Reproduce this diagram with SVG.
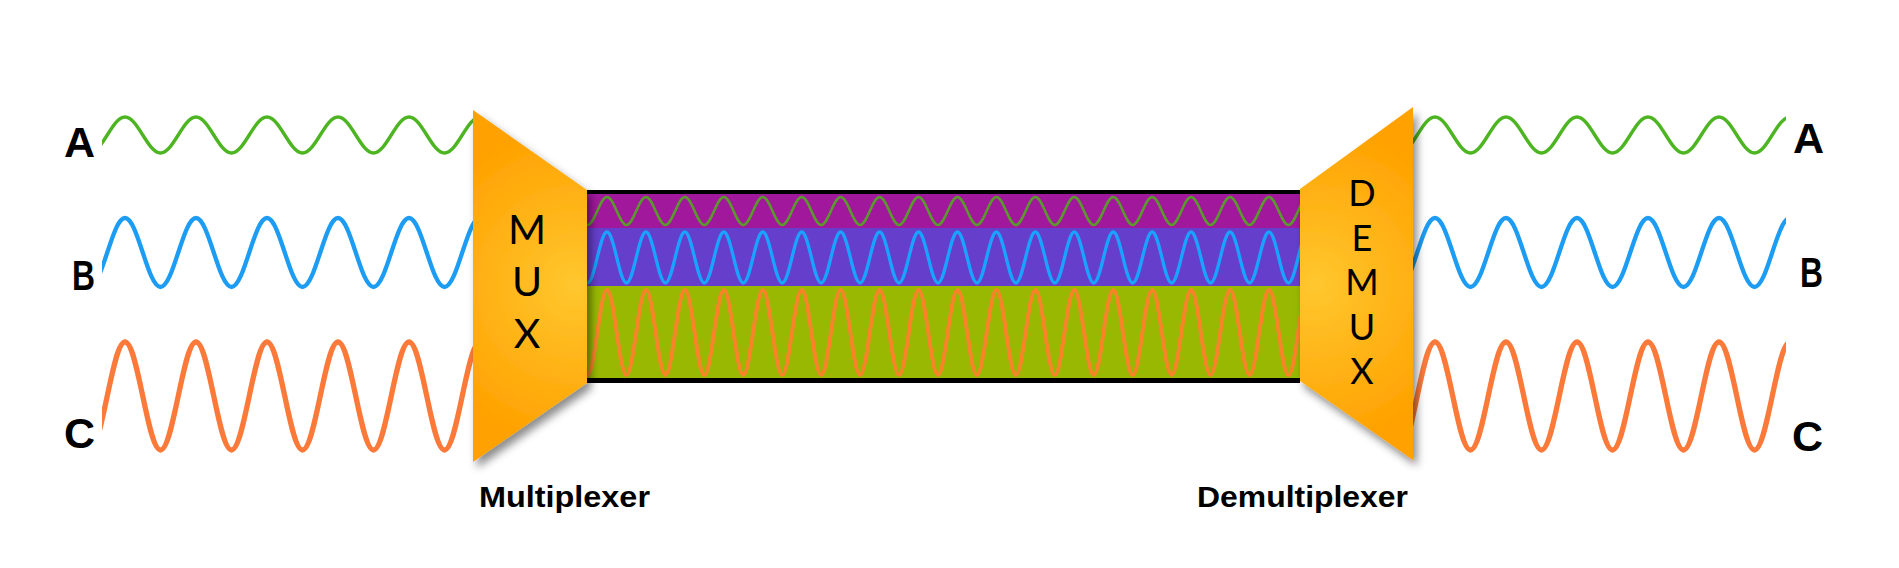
<svg xmlns="http://www.w3.org/2000/svg" xmlns:xlink="http://www.w3.org/1999/xlink" width="1899" height="568" viewBox="0 0 1899 568">
<style>
.lbl{font-family:"Liberation Sans",Arial,sans-serif;font-weight:bold;font-size:43px;fill:#000}
.cap{font-family:"Liberation Sans",Arial,sans-serif;font-weight:bold;font-size:30px;fill:#000}
.mux{font-family:Lato,"Liberation Sans",sans-serif;font-size:41px;fill:#000;text-anchor:middle}
.demux{font-family:Lato,"Liberation Sans",sans-serif;font-size:36px;fill:#000;text-anchor:middle}
.w{fill:none;stroke-linecap:butt}
.wa{stroke:#4cb521;stroke-width:3.4}
.wb{stroke:#1c9cf2;stroke-width:4.3}
.wc{stroke:#fb7a3a;stroke-width:5.3}
.ba{stroke:#5a9a2c;stroke-width:2.6}
.bb{stroke:#1aa2ff;stroke-width:3.3}
.bc{stroke:#f8842a;stroke-width:4}
</style>
<defs>
<clipPath id="sigclip"><rect x="102" y="0" width="374" height="568"/></clipPath>
<clipPath id="bandclip"><rect x="587" y="194" width="713" height="184"/></clipPath>
<radialGradient id="gMux" gradientUnits="userSpaceOnUse" cx="575" cy="285" r="160">
<stop offset="0" stop-color="#ffc72f"/><stop offset="1" stop-color="#ffa100"/>
</radialGradient>
<radialGradient id="gDemux" gradientUnits="userSpaceOnUse" cx="1315" cy="285" r="160">
<stop offset="0" stop-color="#ffc72f"/><stop offset="1" stop-color="#ffa100"/>
</radialGradient>
<filter id="shadow" x="-20%" y="-20%" width="150%" height="150%">
<feDropShadow dx="4" dy="6" stdDeviation="4" flood-color="#000" flood-opacity="0.45"/>
</filter>
<g id="signals" clip-path="url(#sigclip)">
<path class="w wa" d="M54,117 c12.9,0 22.6,36 35.5,36 s22.6,-36 35.5,-36 s22.6,36 35.5,36 s22.6,-36 35.5,-36 s22.6,36 35.5,36 s22.6,-36 35.5,-36 s22.6,36 35.5,36 s22.6,-36 35.5,-36 s22.6,36 35.5,36 s22.6,-36 35.5,-36 s22.6,36 35.5,36 s22.6,-36 35.5,-36 s22.6,36 35.5,36"/>
<path class="w wb" d="M54,218 c12.9,0 22.6,69 35.5,69 s22.6,-69 35.5,-69 s22.6,69 35.5,69 s22.6,-69 35.5,-69 s22.6,69 35.5,69 s22.6,-69 35.5,-69 s22.6,69 35.5,69 s22.6,-69 35.5,-69 s22.6,69 35.5,69 s22.6,-69 35.5,-69 s22.6,69 35.5,69 s22.6,-69 35.5,-69 s22.6,69 35.5,69"/>
<path class="w wc" d="M54,342 c12.9,0 22.6,108 35.5,108 s22.6,-108 35.5,-108 s22.6,108 35.5,108 s22.6,-108 35.5,-108 s22.6,108 35.5,108 s22.6,-108 35.5,-108 s22.6,108 35.5,108 s22.6,-108 35.5,-108 s22.6,108 35.5,108 s22.6,-108 35.5,-108 s22.6,108 35.5,108 s22.6,-108 35.5,-108 s22.6,108 35.5,108"/>
</g>
</defs>

<g id="band">
<rect x="587" y="190" width="713" height="193" fill="#000"/>
<rect x="587" y="194" width="713" height="34" fill="#a1189d"/>
<rect x="587" y="228" width="713" height="58" fill="#653fcb"/>
<rect x="587" y="286" width="713" height="92" fill="#98b802"/>
<g clip-path="url(#bandclip)">
<path class="w ba" d="M568.06,197 c7.08,0 12.39,28 19.47,28 s12.39,-28 19.47,-28 s12.39,28 19.47,28 s12.39,-28 19.47,-28 s12.39,28 19.47,28 s12.39,-28 19.47,-28 s12.39,28 19.47,28 s12.39,-28 19.47,-28 s12.39,28 19.47,28 s12.39,-28 19.47,-28 s12.39,28 19.47,28 s12.39,-28 19.47,-28 s12.39,28 19.47,28 s12.39,-28 19.47,-28 s12.39,28 19.47,28 s12.39,-28 19.47,-28 s12.39,28 19.47,28 s12.39,-28 19.47,-28 s12.39,28 19.47,28 s12.39,-28 19.47,-28 s12.39,28 19.47,28 s12.39,-28 19.47,-28 s12.39,28 19.47,28 s12.39,-28 19.47,-28 s12.39,28 19.47,28 s12.39,-28 19.47,-28 s12.39,28 19.47,28 s12.39,-28 19.47,-28 s12.39,28 19.47,28 s12.39,-28 19.47,-28 s12.39,28 19.47,28 s12.39,-28 19.47,-28 s12.39,28 19.47,28 s12.39,-28 19.47,-28 s12.39,28 19.47,28 s12.39,-28 19.47,-28 s12.39,28 19.47,28 s12.39,-28 19.47,-28"/>
<path class="w bb" d="M568.06,232 c7.08,0 12.39,51 19.47,51 s12.39,-51 19.47,-51 s12.39,51 19.47,51 s12.39,-51 19.47,-51 s12.39,51 19.47,51 s12.39,-51 19.47,-51 s12.39,51 19.47,51 s12.39,-51 19.47,-51 s12.39,51 19.47,51 s12.39,-51 19.47,-51 s12.39,51 19.47,51 s12.39,-51 19.47,-51 s12.39,51 19.47,51 s12.39,-51 19.47,-51 s12.39,51 19.47,51 s12.39,-51 19.47,-51 s12.39,51 19.47,51 s12.39,-51 19.47,-51 s12.39,51 19.47,51 s12.39,-51 19.47,-51 s12.39,51 19.47,51 s12.39,-51 19.47,-51 s12.39,51 19.47,51 s12.39,-51 19.47,-51 s12.39,51 19.47,51 s12.39,-51 19.47,-51 s12.39,51 19.47,51 s12.39,-51 19.47,-51 s12.39,51 19.47,51 s12.39,-51 19.47,-51 s12.39,51 19.47,51 s12.39,-51 19.47,-51 s12.39,51 19.47,51 s12.39,-51 19.47,-51 s12.39,51 19.47,51 s12.39,-51 19.47,-51 s12.39,51 19.47,51 s12.39,-51 19.47,-51"/>
<path class="w bc" d="M568.06,290 c7.08,0 12.39,85 19.47,85 s12.39,-85 19.47,-85 s12.39,85 19.47,85 s12.39,-85 19.47,-85 s12.39,85 19.47,85 s12.39,-85 19.47,-85 s12.39,85 19.47,85 s12.39,-85 19.47,-85 s12.39,85 19.47,85 s12.39,-85 19.47,-85 s12.39,85 19.47,85 s12.39,-85 19.47,-85 s12.39,85 19.47,85 s12.39,-85 19.47,-85 s12.39,85 19.47,85 s12.39,-85 19.47,-85 s12.39,85 19.47,85 s12.39,-85 19.47,-85 s12.39,85 19.47,85 s12.39,-85 19.47,-85 s12.39,85 19.47,85 s12.39,-85 19.47,-85 s12.39,85 19.47,85 s12.39,-85 19.47,-85 s12.39,85 19.47,85 s12.39,-85 19.47,-85 s12.39,85 19.47,85 s12.39,-85 19.47,-85 s12.39,85 19.47,85 s12.39,-85 19.47,-85 s12.39,85 19.47,85 s12.39,-85 19.47,-85 s12.39,85 19.47,85 s12.39,-85 19.47,-85 s12.39,85 19.47,85 s12.39,-85 19.47,-85 s12.39,85 19.47,85 s12.39,-85 19.47,-85"/>
</g>
</g>

<g id="connectors">
<use id="inputs" xlink:href="#signals" href="#signals"/>
<use id="outputs" xlink:href="#signals" href="#signals" transform="translate(1310,0)"/>
</g>

<g id="mux">
<polygon points="473,110 587,190 587,383 473,462" fill="url(#gMux)" filter="url(#shadow)"/>
<text class="mux" x="527" y="244">M</text>
<text class="mux" x="527" y="296">U</text>
<text class="mux" x="527" y="348">X</text>
<text class="cap" x="479" y="507" textLength="171" lengthAdjust="spacingAndGlyphs">Multiplexer</text>
</g>

<g id="demux">
<polygon points="1300,189 1413,107 1413,460 1300,381" fill="url(#gDemux)" filter="url(#shadow)"/>
<text class="demux" x="1362" y="206">D</text>
<text class="demux" x="1362" y="250.5">E</text>
<text class="demux" x="1362" y="295">M</text>
<text class="demux" x="1362" y="339.5">U</text>
<text class="demux" x="1362" y="384">X</text>
<text class="cap" x="1197" y="507" textLength="211" lengthAdjust="spacingAndGlyphs">Demultiplexer</text>
</g>

<g id="labels-in">
<text class="lbl" x="95" y="157" text-anchor="end">A</text>
<text class="lbl" x="95" y="290" text-anchor="end" textLength="23" lengthAdjust="spacingAndGlyphs">B</text>
<text class="lbl" x="95" y="448" text-anchor="end">C</text>
</g>
<g id="labels-out">
<text class="lbl" x="1793" y="153">A</text>
<text class="lbl" x="1800" y="287" textLength="23" lengthAdjust="spacingAndGlyphs">B</text>
<text class="lbl" x="1792" y="451">C</text>
</g>
</svg>
